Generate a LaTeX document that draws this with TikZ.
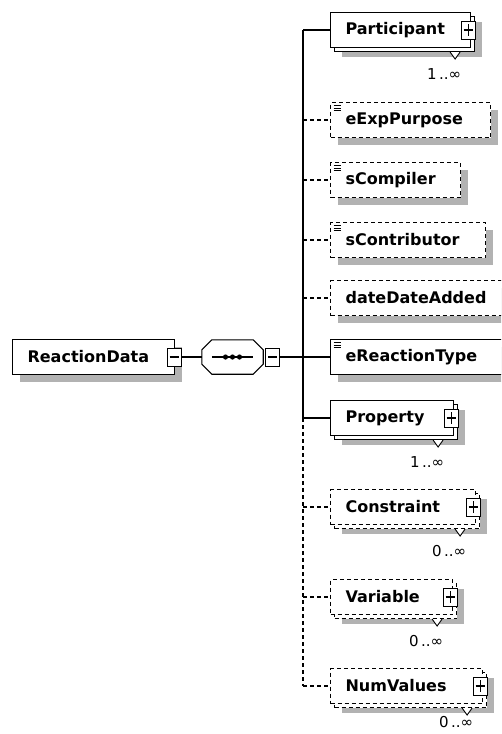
\documentclass[tikz,border=0pt]{standalone}
\usepackage{fontspec}
\setmainfont{DejaVu Sans}
\usetikzlibrary{shadows}

\tikzset{
  elem/.style={draw, fill=white, line width=1.1pt, anchor=west, minimum height=35pt,
    inner xsep=15pt, inner ysep=0pt, align=left, font=\bfseries\fontsize{16}{18}\selectfont},
  one/.style={general shadow={fill=black!30, shadow xshift=7pt, shadow yshift=-7pt}},
  many/.style={general shadow={fill=black!30, shadow xshift=11pt, shadow yshift=-9pt},
    copy shadow={shadow xshift=4pt, shadow yshift=-4pt}},
  opt/.style={dash pattern=on 4pt off 3pt},
  icon/.style={path picture={\foreach \d in {3,5.5,8}
    \draw[solid, black, line width=0.9pt] ([xshift=3pt,yshift=-\d pt]path picture bounding box.north west) -- ++(7pt,0pt);}},
  pmbox/.style={draw, solid, fill=white, line width=1pt, minimum width=14pt, minimum height=18pt, inner sep=0pt},
  minus/.style={pmbox, path picture={
    \draw[line width=1.1pt] ([xshift=2.5pt]path picture bounding box.west) -- ([xshift=-2.5pt]path picture bounding box.east);}},
  plus/.style={pmbox, path picture={
    \draw[line width=1.1pt] ([xshift=2.5pt]path picture bounding box.west) -- ([xshift=-2.5pt]path picture bounding box.east);
    \draw[line width=1.1pt] ([yshift=-3pt]path picture bounding box.north) -- ([yshift=3pt]path picture bounding box.south);}},
  seqbox/.style={minimum width=61pt, minimum height=34pt, inner sep=0pt},
  mult/.style={font=\fontsize{15}{17}\selectfont, inner sep=0pt},
  tri/.style={draw, solid, fill=white, line width=0.9pt},
  link/.style={line width=1.2pt}
}

\begin{document}
\begin{tikzpicture}[x=1pt, y=-1pt, line join=miter]

  \useasboundingbox (0,0) rectangle (501,734);
  \clip (0,0) rectangle (501,734);

  % root and sequence
  \node[elem, one, minimum width=162pt, text width=132pt] (root) at (12,357) {ReactionData};
  \node[minus] (rootm) at ([xshift=-1pt]root.east) {};
  \node[seqbox] (seq) at (232.5,357) {};
  \foreach \s/\c/\o in {7/black!30/0, 0/white/1}
    \path[fill=\c, draw=black, draw opacity=\o, line width=1.1pt, shift={(\s,\s)}]
      ([xshift=10pt]seq.north west) -- ([xshift=-10pt]seq.north east)
      -- ([yshift=-10pt]seq.north east) -- ([yshift=10pt]seq.south east)
      -- ([xshift=-10pt]seq.south east) -- ([xshift=10pt]seq.south west)
      -- ([yshift=10pt]seq.south west) -- ([yshift=-10pt]seq.north west) -- cycle;
  \draw[line width=1.1pt] ([xshift=10pt]seq.west) -- ([xshift=-10pt]seq.east);
  \foreach \k in {-7,0,7}
    \fill[black] ([xshift=\k pt]seq.center) circle (2.6pt);
  \node[minus, anchor=west] (seqm) at ([xshift=2pt]seq.east) {};
  \coordinate (tk) at (303,357);

  % children
  \node[elem, many, minimum width=140pt, text width=110pt] (part) at (330,30) {Participant};
  \node[elem, one, opt, icon, minimum width=160pt, text width=130pt] (purp) at (330,120) {eExpPurpose};
  \node[elem, one, opt, icon, minimum width=130pt, text width=100pt] (comp) at (330,180) {sCompiler};
  \node[elem, one, opt, icon, minimum width=155pt, text width=125pt] (cont) at (330,240) {sContributor};
  \node[elem, one, opt, minimum width=180pt, text width=150pt] (date) at (330,298) {dateDateAdded};
  \node[elem, one, icon, minimum width=180pt, text width=150pt] (type) at (330,357) {eReactionType};
  \node[elem, many, minimum width=123pt, text width=93pt] (prop) at (330,418) {Property};
  \node[elem, many, opt, minimum width=145pt, text width=115pt] (cons) at (330,507) {Constraint};
  \node[elem, many, opt, minimum width=122pt, text width=92pt] (vari) at (330,597) {Variable};
  \node[elem, many, opt, minimum width=152pt, text width=122pt] (numv) at (330,686) {NumValues};

  % expand boxes and multiplicities
  \foreach \n/\m/\d in {part/1/26,prop/1/26,cons/0/26,vari/0/26,numv/0/18} {
    \node[plus] (\n-p) at ([xshift=-3pt]\n.east) {};
    \draw[tri] ([xshift=-21pt,yshift=-4pt]\n.south east) -- ++(5,7) -- ++(5,-7);
    \node[mult] (\n-m) at ([xshift=-27pt,yshift=-\d pt]\n.south east) {\m\,..∞};
  }

  % connectors
  \draw[link] (rootm.east) -- (seq.west);
  \draw[link] (seqm.east) -- (tk);
  \draw[link] (part.west -| tk) -- (prop.west -| tk);
  \draw[link, opt] (prop.west -| tk) -- (numv.west -| tk);
  \foreach \n in {part,type,prop}
    \draw[link] (\n.west -| tk) -- (\n.west);
  \foreach \n in {purp,comp,cont,date,cons,vari,numv}
    \draw[link, opt] (\n.west -| tk) -- (\n.west);

\end{tikzpicture}
\end{document}
